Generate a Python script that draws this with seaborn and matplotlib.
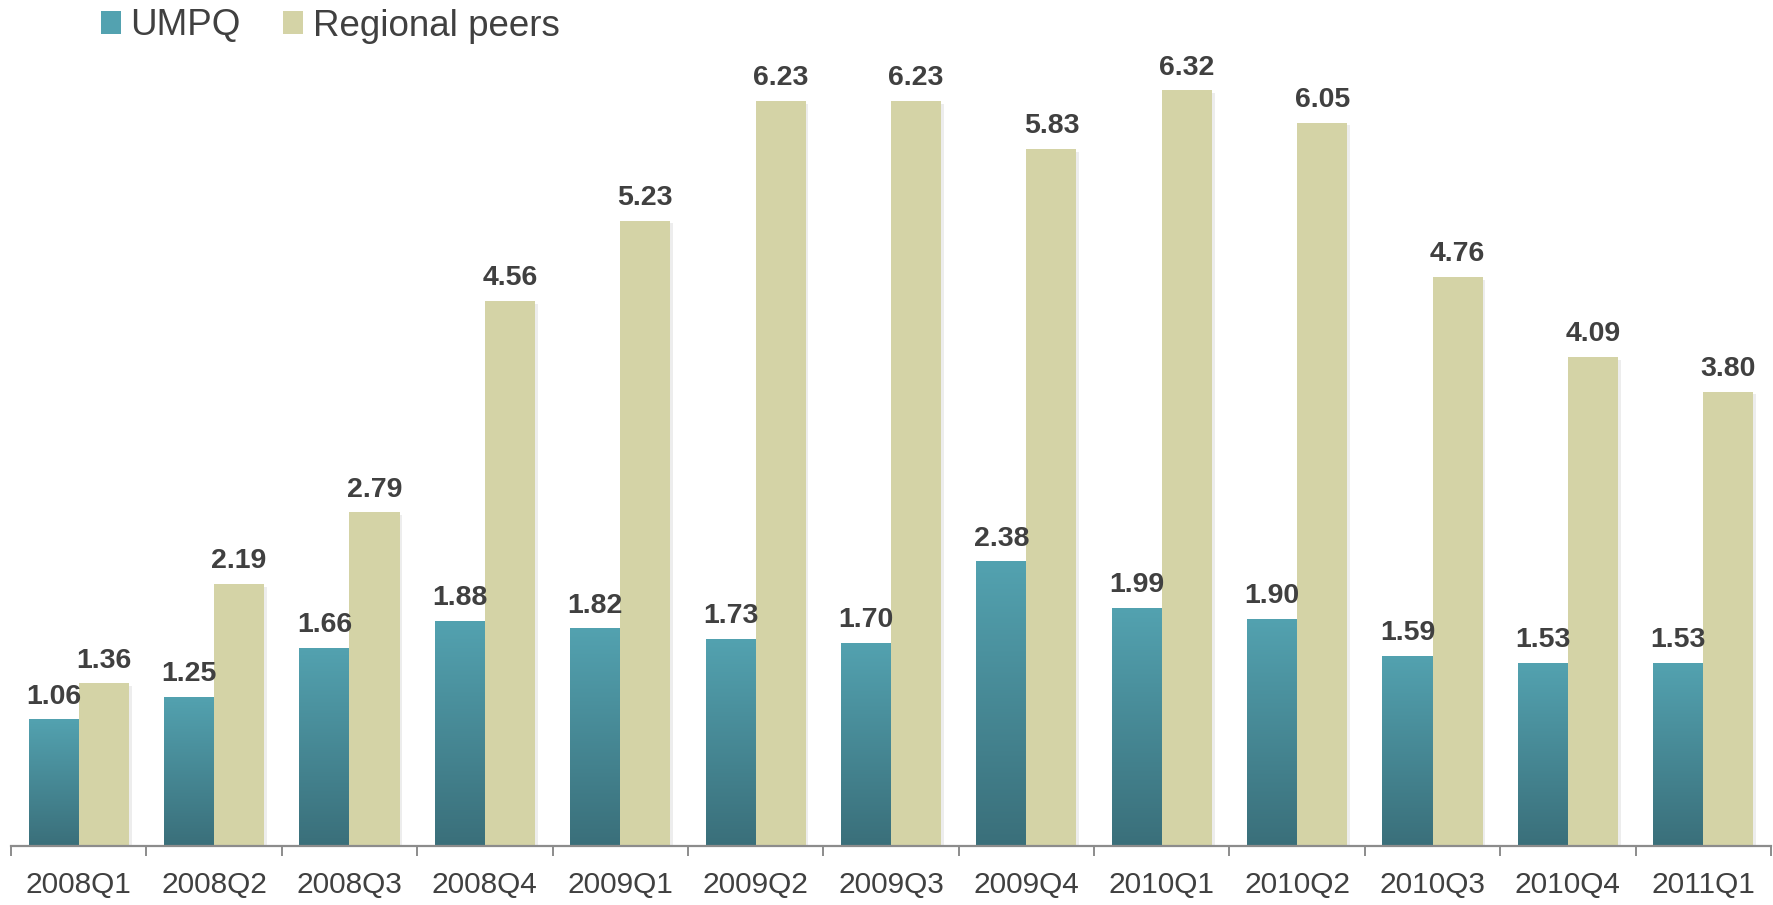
import numpy as np
import pandas as pd
import seaborn as sns
import matplotlib.pyplot as plt
import matplotlib.patheffects as pe
from matplotlib.colors import LinearSegmentedColormap

quarters = ["2008Q1", "2008Q2", "2008Q3", "2008Q4", "2009Q1", "2009Q2", "2009Q3",
            "2009Q4", "2010Q1", "2010Q2", "2010Q3", "2010Q4", "2011Q1"]
umpq = [1.06, 1.25, 1.66, 1.88, 1.82, 1.73, 1.70, 2.38, 1.99, 1.90, 1.59, 1.53, 1.53]
peers = [1.36, 2.19, 2.79, 4.56, 5.23, 6.23, 6.23, 5.83, 6.32, 6.05, 4.76, 4.09, 3.80]
series = ["UMPQ", "Regional peers"]

teal_top = "#53a2b0"
teal_bottom = "#3a6f7a"
khaki = "#d4d3a6"
txt = "#404040"

df = pd.DataFrame({
    "quarter": quarters * 2,
    "value": umpq + peers,
    "series": [series[0]] * len(quarters) + [series[1]] * len(quarters),
})

sns.set_theme(style="white")
plt.rcParams["font.family"] = ["Liberation Sans", "DejaVu Sans"]

fig = plt.figure(figsize=(17.74, 9.05), dpi=100)
ax = fig.add_axes([11 / 1774, 59 / 905, 1760 / 1774, 837 / 905])

sns.barplot(data=df, x="quarter", y="value", hue="series", order=quarters,
            hue_order=series, palette=[teal_bottom, khaki], width=0.74,
            saturation=1, ax=ax, legend=False, linewidth=0)

shadow = [pe.SimplePatchShadow(offset=(2, -2), shadow_rgbFace="#000000", alpha=0.07),
          pe.Normal()]

# gradient fill for the UMPQ bars
cmap = LinearSegmentedColormap.from_list("teal", [teal_bottom, teal_top])
grad = np.linspace(0, 1, 256).reshape(-1, 1)
for bar in ax.containers[0]:
    bar.set_path_effects(shadow)
    x0, y0 = bar.get_x(), bar.get_y()
    w, h = bar.get_width(), bar.get_height()
    im = ax.imshow(grad, cmap=cmap, origin="lower", aspect="auto",
                   extent=[x0, x0 + w, y0, y0 + h], zorder=bar.get_zorder() + 0.1)
    im.set_clip_path(bar)
for bar in ax.containers[1]:
    bar.set_path_effects(shadow)
    bar.set_zorder(bar.get_zorder() + 0.2)
ax.set_xlim(-0.5, len(quarters) - 0.5)
ax.set_ylim(0, 7.0)

for cont in ax.containers:
    ax.bar_label(cont, fmt="%.2f", padding=7, fontsize=20.5, fontweight="bold",
                 color=txt)

# axes styling
for s in ["top", "right", "left"]:
    ax.spines[s].set_visible(False)
ax.spines["bottom"].set_color("#8c8c8c")
ax.spines["bottom"].set_linewidth(1.6)
ax.set_yticks([])
ax.set_xlabel("")
ax.set_ylabel("")
ax.set_xticks(np.arange(-0.5, len(quarters)), minor=True)
ax.tick_params(axis="x", which="minor", bottom=True, length=7, width=1.4,
               color="#8c8c8c", direction="out")
ax.tick_params(axis="x", which="major", length=0, pad=18, labelsize=21.5,
               labelcolor=txt)

# legend
handles = [plt.Rectangle((0, 0), 1, 1, facecolor=teal_top, edgecolor="none"),
           plt.Rectangle((0, 0), 1, 1, facecolor=khaki, edgecolor="none")]
fig.legend(handles, series, loc="center left", bbox_to_anchor=(101 / 1774, 1 - 26 / 905),
           ncol=2, frameon=False, fontsize=26.5, handlelength=0.55, handleheight=0.55,
           handletextpad=0.25, columnspacing=1.15, borderpad=0, borderaxespad=0,
           labelcolor=txt)

fig.savefig("out.png", dpi=100)
